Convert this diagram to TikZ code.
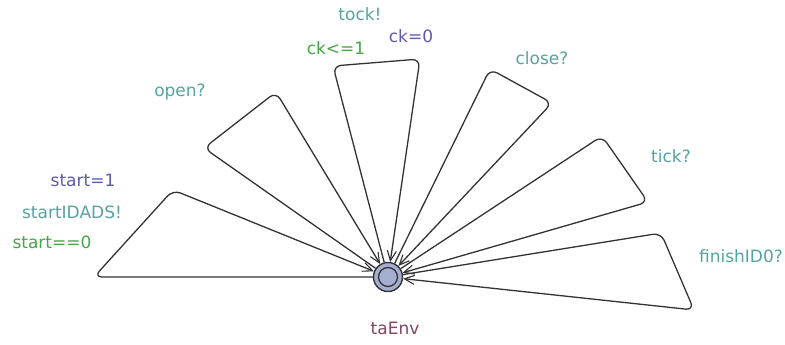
\documentclass[tikz,border=0pt]{standalone}
\usepackage{fontspec}
\setmainfont{DejaVu Sans}
\usetikzlibrary{arrows.meta}
\definecolor{synccol}{HTML}{56A3A3}
\definecolor{guardcol}{HTML}{48A548}
\definecolor{assigncol}{HTML}{5C5CAC}
\definecolor{namecol}{HTML}{824464}
\definecolor{locfill}{HTML}{A4AED0}
\begin{document}
\begin{tikzpicture}[x=1pt,y=-1pt,
  lbl/.style={font=\fontsize{17}{19}\selectfont, inner sep=0pt},
  sync/.style={lbl, text=synccol},
  guard/.style={lbl, text=guardcol},
  assign/.style={lbl, text=assigncol},
  lname/.style={lbl, text=namecol},
  loc/.style={circle, draw=black!80, line width=1.4pt, fill=locfill, minimum size=29pt, inner sep=0pt},
  inner/.style={circle, draw=black!80, line width=1.3pt, minimum size=19pt, inner sep=0pt},
  edge/.style={draw=black!80, line width=1.3pt, rounded corners=8pt, -{Straight Barb[length=10pt,width=9pt,line width=1.1pt]}}]
\useasboundingbox (0,0) rectangle (785,345);
\fill[white] (0,0) rectangle (785,345);

\node[loc] (L) at (388,277) {};
\node[inner] (Li) at (388,277) {};

% corner points
\coordinate (a1) at (94,277);
\coordinate (a2) at (173,190);
\coordinate (b1) at (204,148);
\coordinate (b2) at (276,92);
\coordinate (c1) at (333,66);
\coordinate (c2) at (420,59);
\coordinate (d1) at (490,69);
\coordinate (d2) at (552,103);
\coordinate (e1) at (602,136);
\coordinate (e2) at (648,202);
\coordinate (f1) at (661,233);
\coordinate (f2) at (694,310);

\draw[edge] (L) -- (a1) -- (a2) -- (L);
\draw[edge] (L) -- (b1) -- (b2) -- (L);
\draw[edge] (L) -- (c1) -- (c2) -- (L);
\draw[edge] (L) -- (d1) -- (d2) -- (L);
\draw[edge] (L) -- (e1) -- (e2) -- (L);
\draw[edge] (L) -- (f1) -- (f2) -- (L);

\node[assign] (t1) at (83,180) {start=1};
\node[sync] (t2) at (72,212) {startIDADS!};
\node[guard] (t3) at (52,242) {start==0};
\node[sync] (t4) at (180,92) {open?};
\node[sync] (t5) at (360,14) {tock!};
\node[guard] (t6) at (336,48) {ck<=1};
\node[assign] (t7) at (411,36) {ck=0};
\node[sync] (t8) at (542,58) {close?};
\node[sync] (t9) at (671,156) {tick?};
\node[sync] (t10) at (741,256) {finishID0?};
\node[lname] (t11) at (395,328) {taEnv};
\end{tikzpicture}
\end{document}
